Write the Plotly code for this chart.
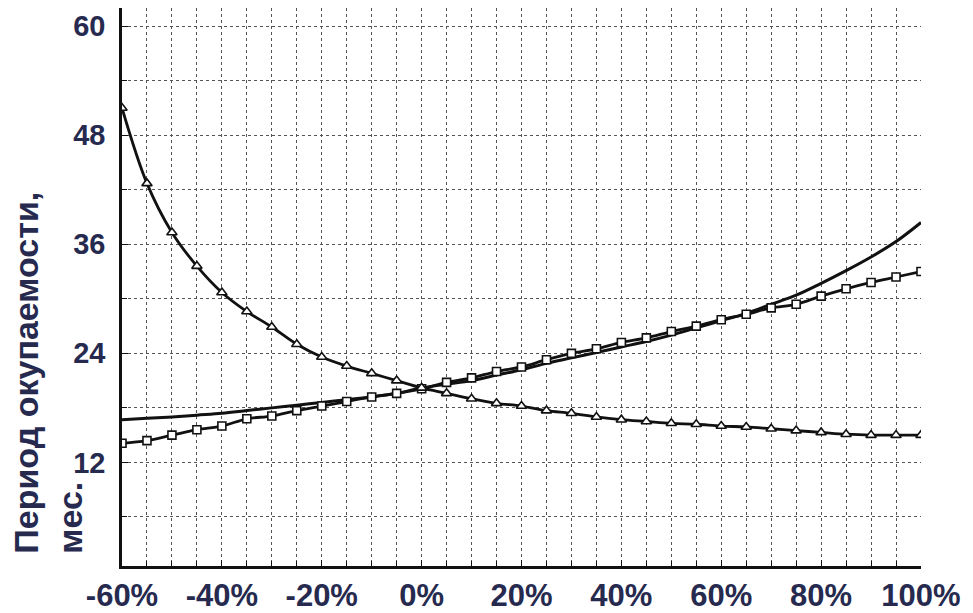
import plotly.graph_objects as go

# Change in parameter, %
x_pct = [-60, -55, -50, -45, -40, -35, -30, -25, -20, -15, -10, -5, 0, 5, 10, 15, 20,
         25, 30, 35, 40, 45, 50, 55, 60, 65, 70, 75, 80, 85, 90, 95, 100]

# Series with triangle markers (decreasing)
tri_vals = [51.0, 42.7, 37.3, 33.6, 30.7, 28.6, 26.9, 25.0, 23.6, 22.6, 21.8, 21.0, 20.2,
            19.6, 19.0, 18.5, 18.2, 17.7, 17.4, 17.0, 16.7, 16.5, 16.3, 16.2, 16.0, 15.9,
            15.7, 15.5, 15.3, 15.1, 15.0, 15.0, 15.0]

# Series with square markers (increasing)
sq_vals = [14.1, 14.4, 15.0, 15.6, 16.0, 16.8, 17.1, 17.7, 18.2, 18.7, 19.2, 19.6, 20.1,
           20.8, 21.3, 22.0, 22.5, 23.3, 24.0, 24.5, 25.2, 25.7, 26.4, 27.0, 27.7, 28.3,
           29.0, 29.4, 30.3, 31.1, 31.8, 32.4, 33.0]

# Plain solid line (no markers)
line_vals = [16.7, 16.85, 17.0, 17.2, 17.4, 17.7, 18.0, 18.3, 18.6, 18.9, 19.2, 19.6, 20.2,
             20.6, 21.0, 21.6, 22.2, 22.9, 23.5, 24.1, 24.7, 25.3, 26.0, 26.8, 27.6, 28.4,
             29.4, 30.4, 31.7, 33.1, 34.6, 36.3, 38.4]

x_tick_vals = [-60, -40, -20, 0, 20, 40, 60, 80, 100]
x_tick_text = ["-60%", "-40%", "-20%", "0%", "20%", "40%", "60%", "80%", "100%"]
y_tick_vals = [12, 24, 36, 48, 60]
y_tick_text = ["12", "24", "36", "48", "60"]

NAVY = "#272a4f"
FONT = "Liberation Sans, Arial, sans-serif"
INK = "#111111"

fig = go.Figure()

fig.add_trace(go.Scatter(
    x=x_pct, y=line_vals, mode="lines",
    line=dict(color=INK, width=3, shape="spline"),
    showlegend=False, hoverinfo="skip"))

fig.add_trace(go.Scatter(
    x=x_pct, y=sq_vals, mode="lines+markers",
    line=dict(color=INK, width=2.8, shape="spline"),
    marker=dict(symbol="square", size=8, color="white",
                line=dict(color=INK, width=1.6)),
    showlegend=False))

fig.add_trace(go.Scatter(
    x=x_pct, y=tri_vals, mode="lines+markers",
    line=dict(color=INK, width=2.8, shape="spline"),
    marker=dict(symbol="triangle-up", size=9, color="white",
                line=dict(color=INK, width=1.6)),
    showlegend=False))

GRID = "#555555"

fig.update_xaxes(
    range=[-60, 100],
    tickvals=x_tick_vals, ticktext=x_tick_text,
    showgrid=True, gridcolor=GRID, gridwidth=1, griddash="dot",
    minor=dict(dtick=5, showgrid=True, gridcolor=GRID, gridwidth=1, griddash="dot",
               ticks="inside", ticklen=5, tickcolor=INK),
    ticks="inside", ticklen=6, tickcolor=INK,
    showline=True, linecolor=INK, linewidth=2.5,
    zeroline=False,
    tickfont=dict(family=FONT, size=31, color=NAVY, weight="bold"),
)

fig.update_yaxes(
    range=[0.6, 62],
    tickvals=y_tick_vals, ticktext=y_tick_text,
    showgrid=True, gridcolor=GRID, gridwidth=1, griddash="dot",
    minor=dict(dtick=6, showgrid=True, gridcolor=GRID, gridwidth=1, griddash="dot",
               ticks="inside", ticklen=5, tickcolor=INK),
    ticks="inside", ticklen=6, tickcolor=INK,
    showline=True, linecolor=INK, linewidth=2.5,
    zeroline=False,
    ticklabelstandoff=8,
    tickfont=dict(family=FONT, size=29, color=NAVY, weight="bold"),
)

fig.add_annotation(
    text="Период окупаемости,<br>мес.",
    xref="paper", yref="paper",
    x=-0.093, y=0.018,
    xanchor="center", yanchor="bottom",
    textangle=-90, align="left", showarrow=False,
    font=dict(family=FONT, size=34, color=NAVY, weight="bold"),
)

fig.update_layout(
    width=965, height=605,
    margin=dict(l=114, r=52, t=0, b=41),
    plot_bgcolor="white", paper_bgcolor="white",
    showlegend=False,
)

fig.write_html("out.html")
